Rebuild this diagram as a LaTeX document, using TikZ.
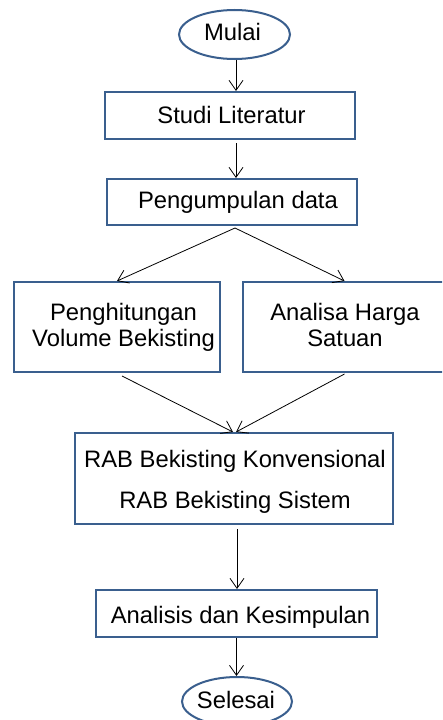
\documentclass[tikz,border=0pt]{standalone}
\usepackage{fontspec}
\setmainfont{Liberation Sans}
\usetikzlibrary{shapes.geometric,arrows.meta,calc}

\definecolor{frameblue}{HTML}{3A5F8E}

\tikzset{
  box/.style={draw=frameblue, line width=2pt, rectangle, inner sep=0pt, fill=white},
  terminal/.style={draw=frameblue, line width=2pt, ellipse, inner sep=0pt, fill=white},
  txt/.style={anchor=base, inner sep=0pt, font=\fontsize{23.8}{28}\selectfont},
  arr/.style={draw=black, line width=0.8pt, -{Straight Barb[length=10pt,width=14pt]}},
}

\begin{document}
\begin{tikzpicture}[x=1pt, y=-1pt]
  \useasboundingbox (0,0) rectangle (442,720);
  \clip (0,0) rectangle (442,720);

  % shapes
  \node[terminal, minimum width=111pt, minimum height=49pt] (mulai) at (234.5,34.5) {};
  \node[box, minimum width=250pt, minimum height=47pt] (studi) at (230,115.5) {};
  \node[box, minimum width=250pt, minimum height=46pt] (data) at (232,202) {};
  \node[box, minimum width=206pt, minimum height=90pt] (volume) at (117,327) {};
  \node[box, minimum width=203pt, minimum height=90pt] (harga) at (344.5,327) {};
  \node[box, minimum width=318pt, minimum height=91pt] (rab) at (234,478.5) {};
  \node[box, minimum width=281pt, minimum height=47pt] (analisis) at (236.5,613.5) {};
  \node[terminal, minimum width=110pt, minimum height=49pt] (selesai) at (237,701.5) {};

  % labels
  \node[txt] (tmulai) at (232.5,40) {Mulai};
  \node[txt] (tstudi) at (231.5,123) {Studi Literatur};
  \node[txt] (tdata) at (238,208.5) {Pengumpulan data};
  \node[txt] (tvol1) at (123.5,320) {Penghitungan};
  \node[txt] (tvol2) at (123.5,346) {Volume Bekisting};
  \node[txt] (thrg1) at (345,320) {Analisa Harga};
  \node[txt] (thrg2) at (345,346) {Satuan};
  \node[txt] (trab1) at (235,467) {RAB Bekisting Konvensional};
  \node[txt] (trab2) at (235,508) {RAB Bekisting Sistem};
  \node[txt] (tanl) at (240.5,623.5) {Analisis dan Kesimpulan};
  \node[txt] (tsel) at (236,708.5) {Selesai};

  % connectors
  \draw[arr] ([xshift=1.5pt]mulai.south) -- ([xshift=1.5pt]mulai.south |- studi.north);
  \draw[arr] ([xshift=6pt,yshift=-3pt]studi.south) -- ([xshift=6pt]studi.south |- data.north);
  \coordinate (split) at ([xshift=3pt,yshift=-2pt]data.south);
  \draw[arr] (split) -- (volume.north);
  \draw[arr] (split) -- (harga.north);
  \draw[arr] ([xshift=5pt,yshift=-3pt]volume.south) -- ([xshift=-1pt]rab.north);
  \draw[arr] ([yshift=-1pt]harga.south) -- ([xshift=2pt]rab.north);
  \draw[arr] ([xshift=3pt,yshift=-4pt]rab.south) -- ([xshift=3pt]rab.south |- analisis.north);
  \draw[arr] (analisis.south) -- (analisis.south |- selesai.north);
\end{tikzpicture}
\end{document}
